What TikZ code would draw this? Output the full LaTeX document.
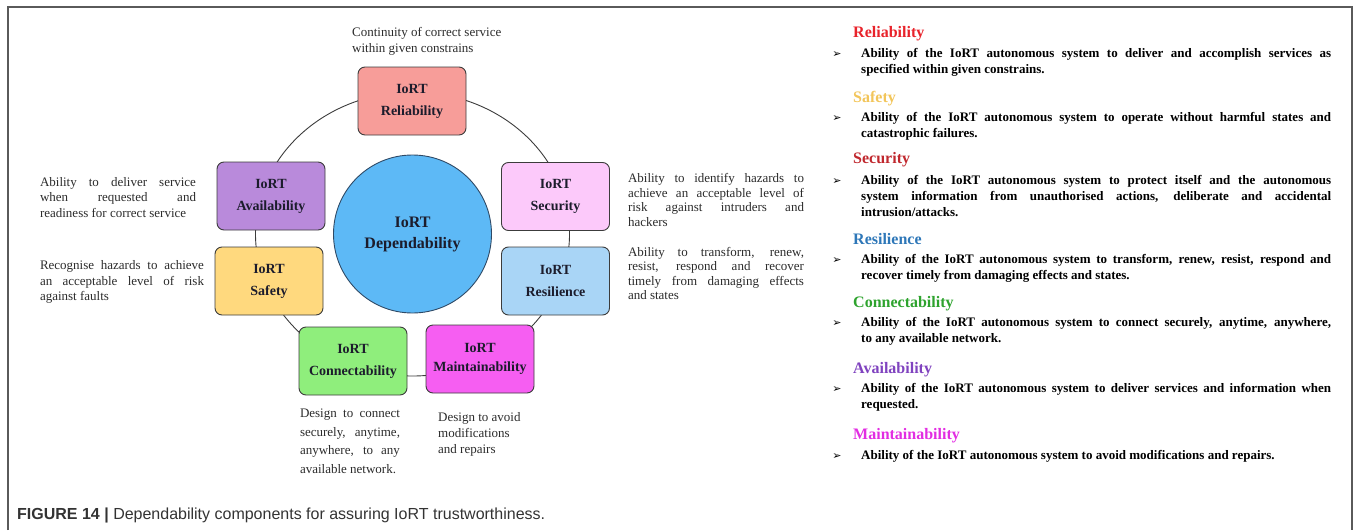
\documentclass[tikz,border=0pt]{standalone}
\usepackage{fontspec}
\setmainfont{Liberation Serif}
\newfontfamily\capfont{Liberation Sans}
\newfontfamily\arrowfont{DejaVu Sans}

\definecolor{relfill}{HTML}{F79D99}
\definecolor{avafill}{HTML}{B98ADB}
\definecolor{secfill}{HTML}{FCC9FA}
\definecolor{saffill}{HTML}{FFD97E}
\definecolor{resfill}{HTML}{A9D5F6}
\definecolor{confill}{HTML}{8FEE7C}
\definecolor{mainfill}{HTML}{F65EF2}
\definecolor{depfill}{HTML}{5DB9F6}
\definecolor{depline}{HTML}{2F4A66}
\definecolor{relhead}{HTML}{E8232B}
\definecolor{safhead}{HTML}{F2C55A}
\definecolor{sechead}{HTML}{C0282E}
\definecolor{reshead}{HTML}{2E77B8}
\definecolor{conhead}{HTML}{2EA32E}
\definecolor{avahead}{HTML}{8043BF}
\definecolor{mainhead}{HTML}{E22DE2}
\definecolor{boxline}{HTML}{3C3C3C}
\definecolor{labtext}{HTML}{1C1C2C}
\definecolor{notetext}{HTML}{2B2B2B}
\definecolor{framegray}{HTML}{5A5A5A}
\definecolor{captext}{HTML}{333333}

% justified lines with forced breaks
\newcommand{\justlines}{\tolerance10000 \hyphenpenalty10000 \pretolerance-1 }

\tikzset{
  comp/.style={draw=boxline, line width=0.9pt, rounded corners=7pt,
    minimum width=108pt, minimum height=68pt, inner sep=0pt, align=center,
    text=labtext, font=\fontsize{14}{22}\selectfont\bfseries},
  note/.style={inner sep=0pt, text=notetext, align=justify,
    font=\fontsize{13}{15.5}\selectfont\justlines},
  head/.style={anchor=base west, inner sep=0pt, font=\fontsize{16}{18}\selectfont\bfseries},
  desc/.style={anchor=north west, inner sep=0pt, text width=470pt, align=justify,
    text=black, font=\fontsize{13}{16}\selectfont\bfseries\justlines},
  tip/.style={anchor=base, inner sep=0pt, font=\arrowfont\fontsize{11}{11}\selectfont}
}

\begin{document}
\begin{tikzpicture}[x=1pt,y=-1pt]
\useasboundingbox (0,0) rectangle (1357,530);
\draw[framegray, line width=1.4pt] (8,530) -- (8,7) -- (1352,7) -- (1352,530); % frame

% centre and ring
\node[circle, draw=depline, fill=depfill, line width=0.9pt, minimum size=158pt, inner sep=0pt,
  align=center, text=labtext, font=\fontsize{16}{21}\selectfont\bfseries] (dep) at (412.5,234) {IoRT\\Dependability};
\draw[boxline, line width=0.9pt] (dep.center) ellipse (157pt and 142pt);

% components
\node[comp, fill=relfill] (rel) at (412,101) {IoRT\\Reliability};
\node[comp, fill=avafill] (ava) at (271,196) {IoRT\\Availability};
\node[comp, fill=secfill] (sec) at (555.5,196.5) {IoRT\\Security};
\node[comp, fill=saffill] (saf) at (269,281) {IoRT\\Safety};
\node[comp, fill=resfill] (res) at (555.5,281) {IoRT\\Resilience};
\node[comp, fill=confill] (con) at (353,361) {IoRT\\Connectability};
\node[comp, fill=mainfill, font=\fontsize{14}{19}\selectfont\bfseries] (main) at (480,359) {IoRT\\Maintainability};

% short notes
\node[note, align=left, anchor=west, font=\fontsize{13}{16}\selectfont] (relNote) at (352,41) {Continuity of correct service\\within given constrains};
\node[note, text width=156pt] (avaNote) at (118,197.5) {Ability to deliver service\linebreak when requested and\linebreak readiness for correct service};
\node[note, text width=164pt] (safNote) at (122,282) {Recognise hazards to achieve\linebreak an acceptable level of risk\linebreak against faults};
\node[note, text width=176pt, font=\fontsize{13}{14.5}\selectfont\justlines] (secNote) at (716,200) {Ability to identify hazards to\linebreak achieve an acceptable level of\linebreak risk against intruders and\linebreak hackers};
\node[note, text width=176pt, font=\fontsize{13}{14.5}\selectfont\justlines] (resNote) at (716,273.5) {Ability to transform, renew,\linebreak resist, respond and recover\linebreak timely from damaging effects\linebreak and states};
\node[note, text width=100pt, font=\fontsize{13}{18.5}\selectfont\justlines] (conNote) at (350,441.5) {Design to connect\linebreak securely, anytime,\linebreak anywhere, to any\linebreak available network.};
\node[note, align=left, anchor=west, font=\fontsize{13}{16}\selectfont] (mainNote) at (438,434) {Design to avoid\\modifications\\and repairs};

% definitions
\node[head, text=relhead] (relHead) at (853,37.5) {Reliability};
\node[head, text=safhead] (safHead) at (853,102.5) {Safety};
\node[head, text=sechead] (secHead) at (853,163.5) {Security};
\node[head, text=reshead] (resHead) at (853,244.5) {Resilience};
\node[head, text=conhead] (conHead) at (853,307.5) {Connectability};
\node[head, text=avahead] (avaHead) at (853,373.5) {Availability};
\node[head, text=mainhead] (mainHead) at (853,439.5) {Maintainability};
\foreach \y [count=\i] in {53,117,180,259,322,388,455}
  \node[tip] (tip\i) at (837,\y+4.3) {➢};
\node[desc] (relDesc) at (861,48.5) {Ability of the IoRT autonomous system to deliver and accomplish services as\linebreak specified within given constrains.};
\node[desc] (safDesc) at (861,112.5) {Ability of the IoRT autonomous system to operate without harmful states and\linebreak catastrophic failures.};
\node[desc] (secDesc) at (861,175.5) {Ability of the IoRT autonomous system to protect itself and the autonomous\linebreak system information from unauthorised actions, deliberate and accidental\linebreak intrusion/attacks.};
\node[desc] (resDesc) at (861,254.5) {Ability of the IoRT autonomous system to transform, renew, resist, respond and\linebreak recover timely from damaging effects and states.};
\node[desc] (conDesc) at (861,317.5) {Ability of the IoRT autonomous system to connect securely, anytime, anywhere,\linebreak to any available network.};
\node[desc] (avaDesc) at (861,383.5) {Ability of the IoRT autonomous system to deliver services and information when\linebreak requested.};
\node[desc] (mainDesc) at (861,450.5) {Ability of the IoRT autonomous system to avoid modifications and repairs.};

\node[anchor=base west, inner sep=0pt, text=captext, font=\capfont\fontsize{16}{18}\selectfont] (cap) at (17,519)
  {\textbf{FIGURE 14 |} Dependability components for assuring IoRT trustworthiness.};
\end{tikzpicture}
\end{document}
